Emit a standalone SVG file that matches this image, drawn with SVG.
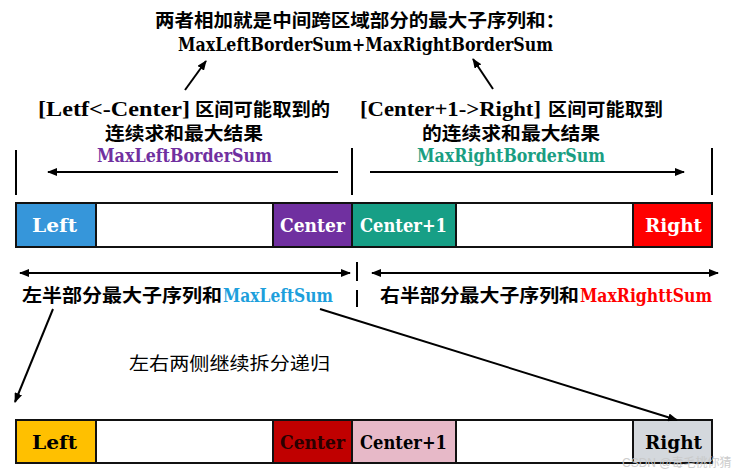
<svg xmlns="http://www.w3.org/2000/svg" width="748" height="475" viewBox="0 0 748 475">
<defs>
<marker id="ah" viewBox="0 0 10 8" refX="9" refY="4" markerWidth="10" markerHeight="8" markerUnits="userSpaceOnUse" orient="auto-start-reverse">
<path d="M0,0 L10,4 L0,8 Z" fill="#000"/>
</marker>
<style>
.cn{font-family:"Noto Sans CJK SC","Noto Sans",sans-serif;font-size:18px;fill:#000;}
.b{font-weight:bold;}
.lat{font-family:"DejaVu Serif","Liberation Serif",serif;font-size:19px;font-weight:bold;fill:#000;}
.lat2{font-family:"Liberation Serif","DejaVu Serif",serif;font-size:20px;font-weight:bold;fill:#000;}
.cell{stroke:#111;stroke-width:2;}
.ct{font-family:"DejaVu Serif","Liberation Serif",serif;font-size:19px;font-weight:bold;}
.ln{stroke:#000;stroke-width:2;fill:none;}
.arr{stroke:#000;stroke-width:2;fill:none;marker-end:url(#ah);}
.darr{stroke:#000;stroke-width:2;fill:none;marker-end:url(#ah);marker-start:url(#ah);}
</style>
</defs>
<rect width="748" height="475" fill="#fff"/>

<g id="title">
<text class="cn b" x="155" y="27" textLength="410" lengthAdjust="spacingAndGlyphs">两者相加就是中间跨区域部分的最大子序列和：</text>
<text class="lat" x="178" y="51" textLength="375" lengthAdjust="spacingAndGlyphs">MaxLeftBorderSum+MaxRightBorderSum</text>
</g>

<g id="left-border-label">
<text class="lat2" x="38" y="116" textLength="152" lengthAdjust="spacingAndGlyphs">[Letf&lt;-Center]</text>
<text class="cn b" x="195" y="116" textLength="135" lengthAdjust="spacingAndGlyphs">区间可能取到的</text>
<text class="cn b" x="105" y="140" textLength="158" lengthAdjust="spacingAndGlyphs">连续求和最大结果</text>
<text class="lat" x="97" y="162" textLength="175" lengthAdjust="spacingAndGlyphs" style="fill:#7030A0">MaxLeftBorderSum</text>
</g>

<g id="right-border-label">
<text class="lat2" x="360" y="116" textLength="181" lengthAdjust="spacingAndGlyphs">[Center+1-&gt;Right]</text>
<text class="cn b" x="548" y="116" textLength="115" lengthAdjust="spacingAndGlyphs">区间可能取到</text>
<text class="cn b" x="422" y="140" textLength="178" lengthAdjust="spacingAndGlyphs">的连续求和最大结果</text>
<text class="lat" x="417" y="162" textLength="188" lengthAdjust="spacingAndGlyphs" style="fill:#1A9E82">MaxRightBorderSum</text>
</g>

<g id="row1">
<rect class="cell" x="16" y="203" width="80" height="44" fill="#3696DA"/>
<rect class="cell" x="96" y="203" width="177" height="44" fill="#fff"/>
<rect class="cell" x="273" y="203" width="79" height="44" fill="#7030A0"/>
<rect class="cell" x="352" y="203" width="104" height="44" fill="#179F86"/>
<rect class="cell" x="456" y="203" width="177" height="44" fill="#fff"/>
<rect class="cell" x="633" y="203" width="79" height="44" fill="#FF0000"/>
<text class="ct" x="32" y="232" textLength="45" lengthAdjust="spacingAndGlyphs" fill="#fff">Left</text>
<text class="ct" x="280" y="232" textLength="65" lengthAdjust="spacingAndGlyphs" fill="#fff">Center</text>
<text class="ct" x="360" y="232" textLength="87" lengthAdjust="spacingAndGlyphs" fill="#fff">Center+1</text>
<text class="ct" x="645" y="232" textLength="57" lengthAdjust="spacingAndGlyphs" fill="#fff">Right</text>
</g>

<g id="half-labels">
<text class="cn b" x="22" y="302" textLength="200" lengthAdjust="spacingAndGlyphs">左半部分最大子序列和</text>
<text class="lat" x="223" y="302" textLength="110" lengthAdjust="spacingAndGlyphs" style="fill:#1E9FDC">MaxLeftSum</text>
<text class="cn b" x="380" y="302" textLength="199" lengthAdjust="spacingAndGlyphs">右半部分最大子序列和</text>
<text class="lat" x="580" y="302" textLength="132" lengthAdjust="spacingAndGlyphs" style="fill:#FF0000">MaxRighttSum</text>
</g>

<g id="recurse-label">
<text class="cn" x="129" y="370" textLength="201" lengthAdjust="spacingAndGlyphs">左右两侧继续拆分递归</text>
</g>

<g id="row2">
<rect class="cell" x="16" y="420" width="80" height="43" fill="#FFC000"/>
<rect class="cell" x="96" y="420" width="177" height="43" fill="#fff"/>
<rect class="cell" x="273" y="420" width="79" height="43" fill="#C00000"/>
<rect class="cell" x="352" y="420" width="104" height="43" fill="#E7B9C8"/>
<rect class="cell" x="456" y="420" width="177" height="43" fill="#fff"/>
<rect class="cell" x="633" y="420" width="79" height="43" fill="#D4D8DD"/>
<text class="ct" x="32" y="449" textLength="45" lengthAdjust="spacingAndGlyphs" fill="#000">Left</text>
<text class="ct" x="280" y="449" textLength="65" lengthAdjust="spacingAndGlyphs" fill="#2a0000">Center</text>
<text class="ct" x="360" y="449" textLength="87" lengthAdjust="spacingAndGlyphs" fill="#000">Center+1</text>
<text class="ct" x="645" y="449" textLength="57" lengthAdjust="spacingAndGlyphs" fill="#000">Right</text>
</g>

<g id="connectors">
<line class="arr" x1="185" y1="90" x2="206" y2="61"/>
<line class="arr" x1="493" y1="89" x2="473" y2="59"/>
<line class="ln" x1="16" y1="150" x2="16" y2="195"/>
<line class="ln" x1="352" y1="148" x2="352" y2="195"/>
<line class="ln" x1="712" y1="148" x2="712" y2="195"/>
<line class="arr" x1="338" y1="172" x2="48" y2="172"/>
<line class="arr" x1="370" y1="172" x2="684" y2="172"/>
<line class="darr" x1="20" y1="273" x2="350" y2="273"/>
<line class="darr" x1="372" y1="273" x2="718" y2="273"/>
<line class="ln" x1="357" y1="262" x2="357" y2="281"/>
<line class="ln" x1="357" y1="290" x2="357" y2="307"/>
<line class="arr" x1="53" y1="309" x2="15" y2="402"/>
<line class="arr" x1="320" y1="309" x2="677" y2="420"/>
</g>

<text x="622" y="467" font-family="'Liberation Sans','Noto Sans CJK SC',sans-serif" font-size="12" fill="#c8c8c8" opacity="0.9">CSDN @毒毛桃你猜</text>
</svg>
